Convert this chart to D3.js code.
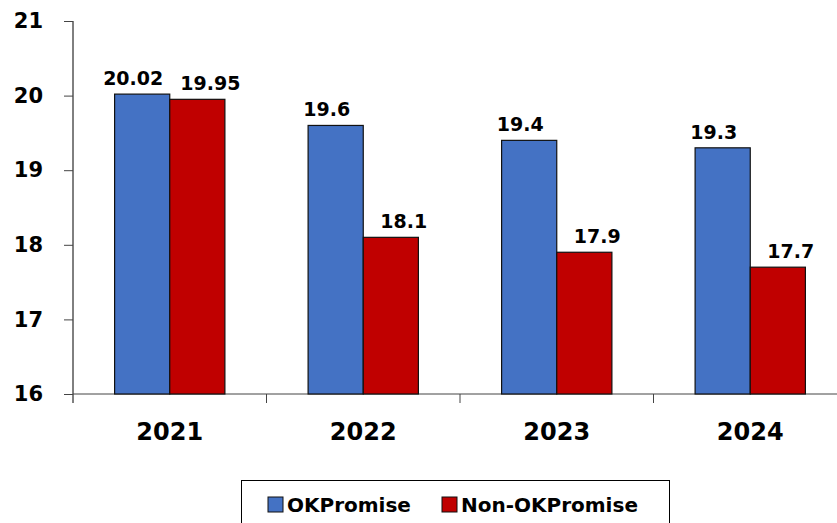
<!DOCTYPE html>
<html>
<head>
<meta charset="utf-8">
<script src="https://cdn.jsdelivr.net/npm/d3@7"></script>
<style>
    body { margin: 0; background: #fff; }
    svg { display: block; font-family: "DejaVu Sans", Verdana, sans-serif; font-weight: bold; }
    svg text { font-family: "DejaVu Sans", Verdana, sans-serif; font-weight: bold; }
</style>
</head>
<body>
<div id="chart"></div>
<script>
const years = ['2021', '2022', '2023', '2024'];
const seriesNames = ['OKPromise', 'Non-OKPromise'];
const okPromise = [20.02, 19.6, 19.4, 19.3];
const nonOkPromise = [19.95, 18.1, 17.9, 17.7];
const yTicks = [16, 17, 18, 19, 20, 21];

const colors = { 'OKPromise': '#4472C4', 'Non-OKPromise': '#C00000' };
const labelShift = { 'OKPromise': -9, 'Non-OKPromise': 13 };

const width = 837;
const height = 523;

const svg = d3.select('#chart')
    .append('svg')
    .attr('width', width)
    .attr('height', height);

const x = d3.scaleBand()
    .domain(years)
    .range([73, 847])
    .paddingInner(0.43)
    .paddingOuter(0.215);

const xSub = d3.scaleBand()
    .domain(seriesNames)
    .range([0, x.bandwidth()])
    .padding(0);

const y = d3.scaleLinear()
    .domain([16, 21])
    .range([394, 21]);

// y axis
const yAxis = svg.append('g')
    .attr('transform', 'translate(73,0)')
    .call(d3.axisLeft(y).tickValues(yTicks).tickSize(9).tickPadding(21).tickFormat(d3.format('d')));
yAxis.attr('font-size', null).attr('font-family', null);
yAxis.select('.domain').attr('stroke', '#000').attr('d', 'M0,21V403');
yAxis.selectAll('.tick line').attr('stroke', '#444');
yAxis.selectAll('.tick text')
    .attr('fill', '#000')
    .style('font-size', '21px');

// x axis line and separators
svg.append('line')
    .attr('x1', 73).attr('x2', width)
    .attr('y1', y(16)).attr('y2', y(16))
    .attr('stroke', '#444');

svg.selectAll('.sep')
    .data(years)
    .enter().append('line')
    .attr('class', 'sep')
    .attr('x1', d => x(d) + x.bandwidth() / 2 + x.step() / 2)
    .attr('x2', d => x(d) + x.bandwidth() / 2 + x.step() / 2)
    .attr('y1', y(16)).attr('y2', y(16) + 9)
    .attr('stroke', '#444');

svg.selectAll('.year-label')
    .data(years)
    .enter().append('text')
    .attr('class', 'year-label')
    .attr('x', d => x(d) + x.bandwidth() / 2)
    .attr('y', 440)
    .attr('text-anchor', 'middle')
    .style('font-size', '24px')
    .text(d => d);

// bars
const rows = years.map((year, i) => ({
    year: year,
    values: [
        { name: 'OKPromise', value: okPromise[i] },
        { name: 'Non-OKPromise', value: nonOkPromise[i] }
    ]
}));

const groups = svg.selectAll('.group')
    .data(rows)
    .enter().append('g')
    .attr('class', 'group')
    .attr('transform', d => `translate(${x(d.year)},0)`);

groups.selectAll('rect')
    .data(d => d.values)
    .enter().append('rect')
    .attr('x', d => xSub(d.name))
    .attr('y', d => y(d.value))
    .attr('width', xSub.bandwidth())
    .attr('height', d => y(16) - y(d.value))
    .attr('fill', d => colors[d.name])
    .attr('stroke', '#111')
    .attr('stroke-width', 1.2);

groups.selectAll('.value-label')
    .data(d => d.values)
    .enter().append('text')
    .attr('class', 'value-label')
    .attr('x', d => xSub(d.name) + xSub.bandwidth() / 2 + labelShift[d.name])
    .attr('y', d => y(d.value) - 9)
    .attr('text-anchor', 'middle')
    .style('font-size', '19px')
    .text(d => d.value);

// legend
const legend = svg.append('g');
legend.append('rect')
    .attr('x', 241.5).attr('y', 480.5)
    .attr('width', 428).attr('height', 60)
    .attr('fill', '#fff')
    .attr('stroke', '#000');

const legendX = { 'OKPromise': 268, 'Non-OKPromise': 442 };
const items = legend.selectAll('.item')
    .data(seriesNames)
    .enter().append('g')
    .attr('class', 'item')
    .attr('transform', d => `translate(${legendX[d]},497)`);

items.append('rect')
    .attr('width', 15).attr('height', 15)
    .attr('fill', d => colors[d])
    .attr('stroke', '#111');

items.append('text')
    .attr('x', 19)
    .attr('y', 15)
    .style('font-size', '20px')
    .text(d => d);
</script>
</body>
</html>
